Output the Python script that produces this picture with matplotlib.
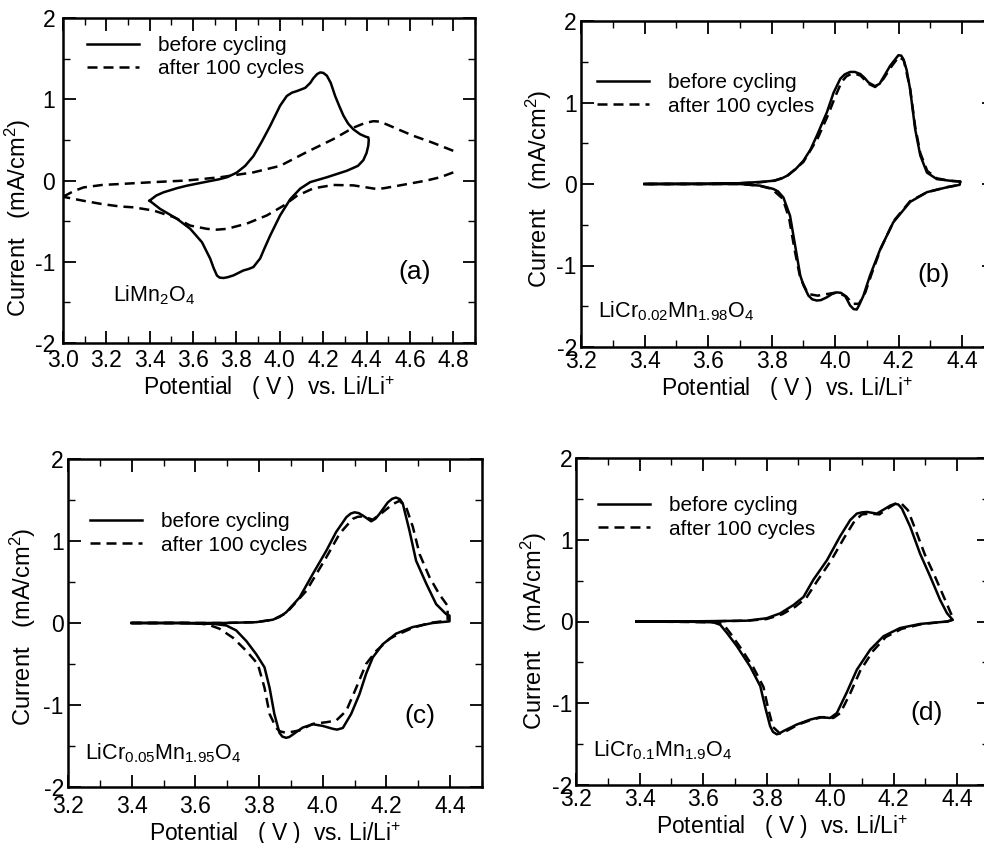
import matplotlib
matplotlib.use("Agg")
import matplotlib.pyplot as plt
from matplotlib.ticker import MultipleLocator, FormatStrFormatter

plt.rcParams['font.family'] = ['Liberation Sans', 'DejaVu Sans']
plt.rcParams['mathtext.default'] = 'regular'
plt.rcParams['axes.unicode_minus'] = False

# ---------------- data (V, mA/cm2) ----------------
# (a) LiMn2O4
a_before_x = [3.399, 3.430, 3.464, 3.525, 3.571, 3.664, 3.720, 3.756, 3.800, 3.840, 3.878, 3.915, 3.955, 4.001,
              4.032, 4.055, 4.078, 4.117, 4.140, 4.155, 4.172, 4.186, 4.200, 4.217, 4.235, 4.255, 4.275,
              4.293, 4.315, 4.339, 4.370, 4.395, 4.408, 4.410, 4.408, 4.400, 4.385, 4.360, 4.309,
              4.217, 4.140, 4.094, 4.048, 4.001, 3.955, 3.930, 3.909, 3.878, 3.855, 3.832, 3.786, 3.760, 3.740,
              3.722, 3.710, 3.695, 3.679, 3.641, 3.587, 3.525, 3.448, 3.399]
a_before_y = [-0.248, -0.185, -0.145, -0.095, -0.064, -0.014, 0.015, 0.040, 0.095, 0.180, 0.300, 0.470, 0.670, 0.920,
              1.040, 1.080, 1.100, 1.140, 1.200, 1.260, 1.310, 1.330, 1.325, 1.290, 1.200, 1.040, 0.910,
              0.800, 0.700, 0.630, 0.570, 0.540, 0.530, 0.500, 0.430, 0.340, 0.250, 0.180, 0.120,
              0.040, -0.020, -0.100, -0.230, -0.430, -0.680, -0.830, -0.960, -1.065, -1.090, -1.107, -1.168, -1.190, -1.200,
              -1.195, -1.170, -1.080, -0.963, -0.760, -0.595, -0.470, -0.350, -0.248]
a_after_anodic_x = [3.000, 3.050, 3.095, 3.180, 3.264, 3.418, 3.571, 3.725, 3.878, 4.001, 4.124, 4.247, 4.339,
                    4.390, 4.431, 4.460, 4.493, 4.554, 4.616, 4.700, 4.800]
a_after_anodic_y = [-0.200, -0.130, -0.085, -0.055, -0.043, -0.020, 0.000, 0.040, 0.100, 0.180, 0.350, 0.510, 0.650,
                    0.705, 0.730, 0.725, 0.690, 0.620, 0.550, 0.470, 0.365]
a_after_cathodic_x = [4.800, 4.740, 4.677, 4.554, 4.480, 4.447, 4.400, 4.339, 4.247, 4.155, 4.078, 4.017, 3.940,
                      3.848, 3.756, 3.710, 3.664, 3.587, 3.510, 3.418, 3.325, 3.264, 3.180, 3.095, 3.000]
a_after_cathodic_y = [0.100, 0.040, 0.000, -0.060, -0.095, -0.105, -0.085, -0.060, -0.055, -0.096, -0.190, -0.310, -0.430,
                      -0.530, -0.595, -0.605, -0.595, -0.555, -0.450, -0.370, -0.330, -0.320, -0.290, -0.250, -0.200]

# (b) LiCr0.02Mn1.98O4
b_before_x = [3.400, 3.600, 3.700, 3.742, 3.780, 3.805, 3.830, 3.848, 3.875, 3.900, 3.922, 3.942, 3.974, 3.995,
              4.016, 4.030, 4.047, 4.062, 4.079, 4.093, 4.105, 4.126, 4.140, 4.152, 4.173, 4.199, 4.208, 4.215,
              4.225, 4.236, 4.252, 4.268, 4.289, 4.320, 4.362, 4.394,
              4.392, 4.352, 4.289, 4.236, 4.183, 4.142, 4.110, 4.089, 4.075, 4.068, 4.058, 4.047, 4.031, 4.018, 4.005,
              3.990, 3.974, 3.955, 3.942, 3.928, 3.916, 3.900, 3.890, 3.874, 3.858, 3.837, 3.820, 3.805, 3.763,
              3.700, 3.600, 3.400]
b_before_y = [0.000, 0.003, 0.010, 0.020, 0.030, 0.040, 0.065, 0.100, 0.180, 0.285, 0.420, 0.590, 0.880, 1.120,
              1.290, 1.345, 1.375, 1.375, 1.350, 1.300, 1.245, 1.200, 1.230, 1.310, 1.450, 1.580, 1.575, 1.530,
              1.400, 1.160, 0.670, 0.350, 0.140, 0.060, 0.040, 0.030,
              -0.010, -0.040, -0.100, -0.220, -0.470, -0.800, -1.120, -1.370, -1.490, -1.540, -1.535, -1.490, -1.370,
              -1.335, -1.330, -1.350, -1.390, -1.425, -1.430, -1.415, -1.370, -1.240, -1.120, -0.755, -0.390, -0.165,
              -0.090, -0.060, -0.020, 0.000, 0.000, 0.000]
b_after_x = [3.400, 3.600, 3.700, 3.760, 3.810, 3.850, 3.900, 3.945, 3.978, 4.000, 4.020, 4.035, 4.050, 4.065,
             4.080, 4.105, 4.126, 4.152, 4.175, 4.200, 4.216, 4.236, 4.252, 4.268, 4.290, 4.320, 4.360, 4.394,
             4.392, 4.350, 4.290, 4.236, 4.185, 4.145, 4.115, 4.095, 4.075, 4.055, 4.035, 4.005, 3.975,
             3.945, 3.915, 3.890, 3.872, 3.855, 3.835, 3.800, 3.760, 3.700, 3.400]
b_after_y = [0.000, 0.000, 0.010, 0.020, 0.040, 0.100, 0.270, 0.560, 0.850, 1.070, 1.250, 1.320, 1.350, 1.350,
             1.330, 1.230, 1.190, 1.290, 1.430, 1.560, 1.520, 1.170, 0.700, 0.380, 0.160, 0.070, 0.040, 0.030,
             -0.010, -0.040, -0.100, -0.210, -0.450, -0.780, -1.100, -1.330, -1.470, -1.470, -1.380, -1.330, -1.350,
             -1.370, -1.350, -1.150, -0.800, -0.420, -0.180, -0.060, -0.020, 0.000, 0.000]

# (c) LiCr0.05Mn1.95O4
c_before_x = [3.400, 3.550, 3.686, 3.791, 3.843, 3.865, 3.885, 3.927, 3.969, 4.011, 4.042, 4.074, 4.088, 4.100,
              4.113, 4.126, 4.152, 4.165, 4.178, 4.204, 4.218, 4.230, 4.242, 4.251, 4.272, 4.293, 4.325, 4.356,
              4.387, 4.398,
              4.398, 4.345, 4.282, 4.230, 4.188, 4.157, 4.136, 4.115, 4.089, 4.063, 4.045, 4.031, 4.000, 3.969,
              3.937, 3.906, 3.895, 3.885, 3.873, 3.864, 3.848, 3.833, 3.817, 3.791, 3.760, 3.728, 3.697, 3.655, 3.550, 3.400]
c_before_y = [0.000, 0.000, 0.000, 0.010, 0.040, 0.075, 0.130, 0.310, 0.600, 0.880, 1.110, 1.290, 1.335, 1.350,
              1.340, 1.310, 1.240, 1.270, 1.330, 1.470, 1.515, 1.530, 1.510, 1.460, 1.130, 0.760, 0.480, 0.230,
              0.110, 0.090,
              0.020, 0.000, -0.050, -0.130, -0.260, -0.420, -0.620, -0.870, -1.110, -1.280, -1.300, -1.290, -1.255, -1.235,
              -1.275, -1.360, -1.390, -1.400, -1.385, -1.340, -1.110, -0.790, -0.540, -0.380, -0.220, -0.090, -0.030,
              -0.010, 0.000, 0.000]
c_after_x = [3.400, 3.550, 3.686, 3.791, 3.843, 3.885, 3.948, 4.011, 4.053, 4.094, 4.110, 4.126, 4.157, 4.188,
             4.220, 4.241, 4.262, 4.283, 4.304, 4.335, 4.366, 4.392,
             4.392, 4.335, 4.282, 4.230, 4.209, 4.168, 4.136, 4.105, 4.074, 4.042, 4.011, 3.969, 3.927,
             3.885, 3.865, 3.854, 3.833, 3.817, 3.796, 3.760, 3.718, 3.676, 3.640, 3.600, 3.400]
c_after_y = [0.000, 0.000, 0.000, 0.010, 0.040, 0.120, 0.390, 0.800, 1.090, 1.270, 1.295, 1.300, 1.260, 1.350,
             1.450, 1.490, 1.410, 1.170, 0.840, 0.560, 0.350, 0.210,
             0.030, 0.000, -0.060, -0.150, -0.195, -0.340, -0.500, -0.790, -1.070, -1.190, -1.210, -1.230, -1.310,
             -1.340, -1.320, -1.280, -1.110, -0.790, -0.500, -0.340, -0.180, -0.070, -0.020, 0.000, 0.000]

# (d) LiCr0.1Mn1.9O4
d_before_x = [3.390, 3.528, 3.738, 3.800, 3.843, 3.884, 3.916, 3.947, 3.990, 4.031, 4.063, 4.084, 4.100, 4.116,
              4.147, 4.173, 4.190, 4.205, 4.215, 4.226, 4.252, 4.283, 4.315, 4.346, 4.368, 4.386,
              4.368, 4.283, 4.220, 4.168, 4.126, 4.084, 4.052, 4.021, 4.000, 3.968, 3.937, 3.895, 3.853,
              3.840, 3.832, 3.820, 3.811, 3.795, 3.780, 3.748, 3.706, 3.675, 3.654, 3.632, 3.528, 3.390]
d_before_y = [0.000, 0.000, 0.010, 0.040, 0.100, 0.200, 0.300, 0.510, 0.750, 1.040, 1.240, 1.320, 1.335, 1.340,
              1.320, 1.380, 1.420, 1.440, 1.430, 1.380, 1.160, 0.830, 0.550, 0.265, 0.100, 0.020,
              0.000, -0.030, -0.080, -0.180, -0.345, -0.590, -0.870, -1.120, -1.180, -1.170, -1.200, -1.260, -1.340,
              -1.370, -1.380, -1.350, -1.280, -1.040, -0.790, -0.550, -0.300, -0.140, -0.040, -0.010, 0.000, 0.000]
d_after_x = [3.390, 3.600, 3.740, 3.800, 3.850, 3.890, 3.925, 3.960, 4.002, 4.045, 4.077, 4.100, 4.125,
             4.155, 4.180, 4.205, 4.225, 4.245, 4.268, 4.298, 4.330, 4.360, 4.380, 4.390,
             4.370, 4.290, 4.225, 4.175, 4.135, 4.095, 4.063, 4.032, 4.010, 3.975, 3.943, 3.900, 3.862,
             3.842, 3.820, 3.804, 3.790, 3.758, 3.716, 3.685, 3.665, 3.645, 3.400]
d_after_y = [0.000, 0.000, 0.010, 0.030, 0.090, 0.180, 0.290, 0.500, 0.740, 1.030, 1.230, 1.310, 1.320,
             1.310, 1.380, 1.440, 1.440, 1.360, 1.130, 0.820, 0.550, 0.280, 0.100, 0.030,
             0.000, -0.030, -0.090, -0.190, -0.360, -0.600, -0.880, -1.120, -1.180, -1.170, -1.200, -1.260, -1.340,
             -1.370, -1.290, -1.050, -0.800, -0.560, -0.310, -0.140, -0.040, -0.010, 0.000]

labels_legend = ["before cycling", "after 100 cycles"]
compounds = ["LiMn$_2$O$_4$", "LiCr$_{0.02}$Mn$_{1.98}$O$_4$",
             "LiCr$_{0.05}$Mn$_{1.95}$O$_4$", "LiCr$_{0.1}$Mn$_{1.9}$O$_4$"]
panel_tags = ["(a)", "(b)", "(c)", "(d)"]
xlabel = "Potential   ( V )  vs. Li/Li$^{+}$"
ylabel = "Current   (mA/cm$^{2}$)"

# ---------------- layout ----------------
W, H = 984, 843
fig = plt.figure(figsize=(W / 100, H / 100), dpi=100)

def rect(l, r, t, b):
    return [l / W, 1 - b / H, (r - l) / W, (b - t) / H]

panels = [
    dict(rect=rect(63, 475, 18, 343), xlim=(3.0, 4.9), xticks=(3.0, 4.8),
         before=[(a_before_x, a_before_y)],
         after=[(a_after_anodic_x, a_after_anodic_y), (a_after_cathodic_x, a_after_cathodic_y)],
         comp_xy=(3.232, -1.487), tag_xy=(4.545, -1.12), leg=(0.058, 0.945),
         ylab=(-0.073, 0.386), ypad=5.5, xpad=4.5),
    dict(rect=rect(581, 994, 21, 347), xlim=(3.2, 4.5), xticks=(3.2, 4.4),
         before=[(b_before_x, b_before_y)], after=[(b_after_x, b_after_y)],
         comp_xy=(3.253, -1.632), tag_xy=(4.258, -1.12), leg=(0.039, 0.84),
         ylab=(-0.065, 0.485), ypad=3.0, xpad=2.5),
    dict(rect=rect(68, 482, 459, 787), xlim=(3.2, 4.5), xticks=(3.2, 4.4),
         before=[(c_before_x, c_before_y)], after=[(c_after_x, c_after_y)],
         comp_xy=(3.252, -1.662), tag_xy=(4.257, -1.13), leg=(0.053, 0.838),
         ylab=(-0.072, 0.488), ypad=3.0, xpad=6.0),
    dict(rect=rect(576, 989, 458, 785), xlim=(3.2, 4.5), xticks=(3.2, 4.4),
         before=[(d_before_x, d_before_y)], after=[(d_after_x, d_after_y)],
         comp_xy=(3.252, -1.654), tag_xy=(4.253, -1.12), leg=(0.053, 0.884),
         ylab=(-0.065, 0.471), ypad=2.5, xpad=2.5),
]

for i, p in enumerate(panels):
    ax = fig.add_axes(p['rect'])
    for k, (xs, ys) in enumerate(p['before']):
        ax.plot(xs, ys, color='black', lw=1.8, solid_joinstyle='round',
                label=labels_legend[0] if k == 0 else None)
    for k, (xs, ys) in enumerate(p['after']):
        ax.plot(xs, ys, color='black', lw=1.8, dashes=(4.0, 2.4),
                label=labels_legend[1] if k == 0 else None)
    ax.set_xlim(*p['xlim'])
    ax.set_ylim(-2, 2)
    ax.xaxis.set_minor_locator(MultipleLocator(0.1))
    ax.yaxis.set_major_locator(MultipleLocator(1))
    ax.yaxis.set_minor_locator(MultipleLocator(0.5))
    lo, hi = p['xticks']
    ax.set_xticks([round(lo + 0.2 * k, 1) for k in range(int(round((hi - lo) / 0.2)) + 1)])
    ax.xaxis.set_major_formatter(FormatStrFormatter('%.1f'))
    ax.yaxis.set_major_formatter(FormatStrFormatter('%d'))
    ax.tick_params(which='both', direction='in', top=True, right=True)
    ax.tick_params(which='major', length=9, width=1.3, labelsize=16.5)
    ax.tick_params(which='minor', length=5, width=1.0)
    ax.tick_params(axis='y', which='major', pad=p['ypad'])
    ax.tick_params(axis='x', which='major', pad=p['xpad'])
    for s in ax.spines.values():
        s.set_linewidth(1.8)
    ax.set_xlabel(xlabel, fontsize=16.5, labelpad=1)
    ax.set_ylabel(ylabel, fontsize=17)
    ax.yaxis.set_label_coords(*p['ylab'])
    ax.text(p['comp_xy'][0], p['comp_xy'][1], compounds[i], fontsize=15.5, ha='left', va='baseline')
    ax.text(p['tag_xy'][0], p['tag_xy'][1], panel_tags[i], fontsize=19, ha='left', va='center')
    ax.legend(loc='upper left', bbox_to_anchor=p['leg'], frameon=False, fontsize=15,
              handlelength=2.5, handletextpad=0.9, labelspacing=0.22, borderpad=0,
              borderaxespad=0)

fig.savefig("out.png", dpi=100)
